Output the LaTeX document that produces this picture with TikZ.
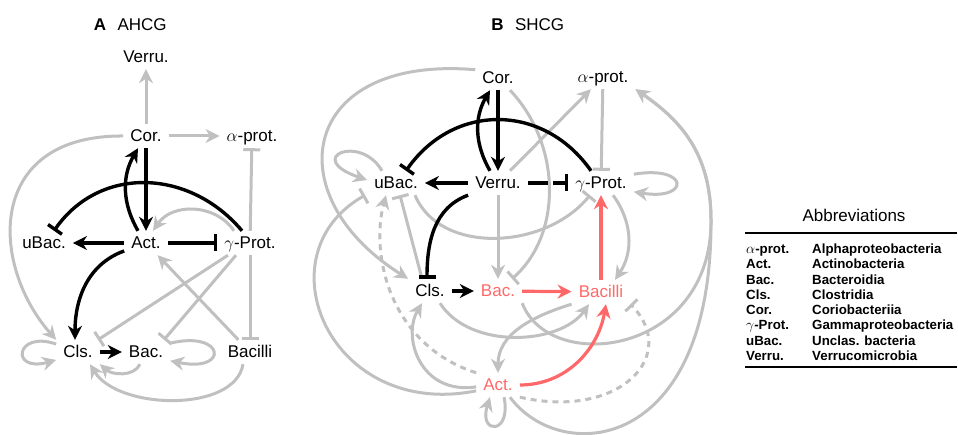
\documentclass[tikz,border=0pt]{standalone}
\usepackage{fontspec}
\setmainfont{Liberation Sans}
\usetikzlibrary{arrows.meta,positioning}
\definecolor{edgegray}{RGB}{192,192,192}
\definecolor{edgered}{RGB}{255,104,104}
\tikzset{
  taxon/.style={font=\fontsize{17}{20}\selectfont, text height=12pt, text depth=0pt, inner xsep=7pt, inner ysep=6pt},
  redtaxon/.style={taxon, text=edgered},
  paneltitle/.style={font=\fontsize{17}{20}\selectfont, inner sep=0pt, text height=12pt, text depth=0pt},
  activ/.style={-{Stealth[length=14pt,width=14pt,inset=4.5pt]}},
  inhib/.style={-{Bar[width=17pt]}},
  blk/.style={draw=black, line width=3.4pt},
  gry/.style={draw=edgegray, line width=3pt},
  rd/.style={draw=edgered, line width=3.2pt},
  dotline/.style={dash pattern=on 6pt off 5pt},
}

\begin{document}
\begin{tikzpicture}[x=1pt,y=1pt]
  \useasboundingbox (0,0) rectangle (958,435);

  % panel A
  \node[paneltitle, font=\fontsize{17}{20}\selectfont\bfseries] (labA) at (100,410) {A};
  \node[paneltitle, right=11pt of labA] (nameA) {AHCG};

  \node[taxon] (verA) at (146,378) {Verru.};
  \node[taxon] (corA) at (146,299) {Cor.};
  \node[taxon] (alpA) at (252,299) {$\alpha$-prot.};
  \node[taxon] (ubaA) at (44,192) {uBac.};
  \node[taxon] (actA) at (146,192) {Act.};
  \node[taxon] (gamA) at (250,192) {$\gamma$-Prot.};
  \node[taxon] (clsA) at (78,83) {Cls.};
  \node[taxon] (bacA) at (146,83) {Bac.};
  \node[taxon] (bciA) at (250,83) {Bacilli};

  \draw[activ,gry] (corA) -- (verA);
  \draw[activ,gry] (corA) -- (alpA);
  \draw[inhib,gry] (gamA) -- (alpA);
  \draw[inhib,gry] (gamA) -- (bciA);
  \draw[activ,gry] (corA.west) .. controls (-15,300) and (-10,170) .. (clsA.north west);
  \draw[activ,gry] ([xshift=-16pt]gamA.north) .. controls (215,232) and (172,232) .. ([xshift=7pt]actA.north);
  \draw[activ,gry] (bciA) -- (actA);
  \draw[inhib,gry] ([xshift=-22pt]gamA.south) -- ([xshift=20pt]clsA.north);
  \draw[inhib,gry] ([xshift=-14pt]gamA.south) -- ([xshift=18pt]bacA.north);
  \draw[activ,gry] (clsA.160) .. controls (15,105) and (10,62) .. (clsA.200);
  \draw[activ,gry] (bacA.20) .. controls (225,105) and (230,62) .. (bacA.340);
  \draw[activ,gry] ([xshift=-6pt]bacA.south) .. controls (134,58) and (112,60) .. (clsA.south east);
  \draw[activ,gry] ([xshift=-7pt]bciA.south) .. controls (235,22) and (118,25) .. ([xshift=12pt]clsA.south);

  \draw[activ,blk] (corA) -- (actA);
  \draw[activ,blk] ([xshift=-8pt]actA.north) to[bend left=30] ([xshift=-8pt]corA.south);
  \draw[inhib,blk] ([xshift=-8pt]gamA.north) to[out=130,in=55,looseness=1.1] ([xshift=10pt]ubaA.north);
  \draw[activ,blk] (actA) -- (ubaA);
  \draw[inhib,blk] (actA) -- (gamA);
  \draw[activ,blk] (actA.200) to[out=200,in=90] ([xshift=-3pt]clsA.north);
  \draw[activ,blk] (clsA) -- (bacA);

  % panel B
  \node[paneltitle, font=\fontsize{17}{20}\selectfont\bfseries] (labB) at (497.5,410) {B};
  \node[paneltitle, right=11pt of labB] (nameB) {SHCG};

  \node[taxon] (corB) at (498,357) {Cor.};
  \node[taxon] (alpB) at (603,358) {$\alpha$-prot.};
  \node[taxon] (ubaB) at (396,252) {uBac.};
  \node[taxon] (verB) at (498,252) {Verru.};
  \node[taxon] (gamB) at (601,252) {$\gamma$-Prot.};
  \node[taxon] (clsB) at (430,144) {Cls.};
  \node[redtaxon] (bacB) at (498,144) {Bac.};
  \node[redtaxon] (bciB) at (601,143) {Bacilli};
  \node[redtaxon] (actB) at (498,50) {Act.};
  \coordinate (rimB) at (711,215);

  \draw[activ,gry] (corB.160) .. controls (300,380) and (275,240) .. (clsB.north west);
  \draw[activ,gry] ([xshift=-14pt]ubaB.north) .. controls (360,302) and (303,277) .. ([yshift=3pt]ubaB.west);
  \draw[activ,gry] (verB) -- (alpB);
  \draw[inhib,gry] (alpB) -- (gamB);
  \draw[activ,gry] (gamB.15) .. controls (690,270) and (690,234) .. (gamB.345);
  \draw[inhib,gry] ([xshift=12pt]corB.south) .. controls (562,290) and (562,200) .. ([xshift=14pt]bacB.north);
  \draw[activ,gry] (verB) -- (bacB);
  \draw[inhib,gry] ([xshift=19pt]ubaB.south) .. controls (440,180) and (545,185) .. ([xshift=-11pt]gamB.south);
  \draw[inhib,gry] (actB.195) .. controls (330,15) and (260,180) .. ([xshift=-2pt]ubaB.south west);
  \draw[activ,gry,dotline] (actB.north west) .. controls (390,90) and (370,180) .. ([xshift=-10pt]ubaB.south);
  \draw[inhib,gry] ([xshift=-8pt]clsB.north) -- ([xshift=4pt]ubaB.south);
  \draw[activ,gry] (actB.185) .. controls (420,40) and (402,98) .. ([xshift=-8pt]clsB.south);
  \draw[activ,gry] ([xshift=6pt]actB.south) .. controls (512,0) and (478,0) .. ([xshift=-8pt]actB.south);
  \draw[activ,gry] ([xshift=10pt]clsB.south) .. controls (470,85) and (560,90) .. ([xshift=-12pt]bciB.south);
  \draw[activ,gry] (bciB.south west) .. controls (530,118) and (498,100) .. (actB.north);
  \draw[activ,gry] (bacB.south east) .. controls (550,60) and (712,80) .. (rimB)
    .. controls (711,282) and (680,315) .. (alpB.south east);
  \draw[activ,gry] ([xshift=12pt]actB.south) .. controls (560,-30) and (712,-20) .. (rimB)
    .. controls (711,282) and (680,315) .. (alpB.south east);
  \draw[inhib,gry,dotline] (actB.south east) .. controls (620,15) and (680,80) .. (bciB.south east);
  \draw[activ,gry] ([xshift=12pt]gamB.south) to[bend left=35] ([xshift=14pt]bciB.north);

  \draw[activ,blk] (corB) -- (verB);
  \draw[activ,blk] ([xshift=-8pt]verB.north) to[bend left=30] ([xshift=-8pt]corB.south);
  \draw[inhib,blk] ([xshift=-10pt]gamB.north) to[out=125,in=55,looseness=1.15] ([xshift=10pt]ubaB.north);
  \draw[activ,blk] (verB) -- (ubaB);
  \draw[inhib,blk,dash pattern=on 20pt off 5pt] (verB) -- (gamB);
  \draw[inhib,blk] (verB.south west) to[out=200,in=90] ([xshift=-3pt]clsB.north);
  \draw[activ,blk] (clsB) -- (bacB);

  \draw[activ,rd] (bacB) -- (bciB);
  \draw[activ,rd] (bciB) -- (gamB);
  \draw[activ,rd] (actB.east) to[out=0,in=260] ([xshift=5pt]bciB.south);

  % abbreviations
  \node[font=\fontsize{17}{20}\selectfont] (abbrhead) at (854,220) {Abbreviations};
  \node[anchor=north west, inner sep=0pt, font=\fontsize{13.3}{15.3}\selectfont\bfseries] (abbrtab) at (746,192.5) {%
    \begin{tabular}{@{}p{66pt}@{}l@{}}
      $\alpha$-prot. & Alphaproteobacteria\\
      Act. & Actinobacteria\\
      Bac. & Bacteroidia\\
      Cls. & Clostridia\\
      Cor. & Coriobacteriia\\
      $\gamma$-Prot. & Gammaproteobacteria\\
      uBac. & Unclas. bacteria\\
      Verru. & Verrucomicrobia
    \end{tabular}};
  \draw[line width=1.5pt] (745,202) -- (957,202);
  \draw[line width=1.5pt] (745,68) -- (957,68);
\end{tikzpicture}
\end{document}
